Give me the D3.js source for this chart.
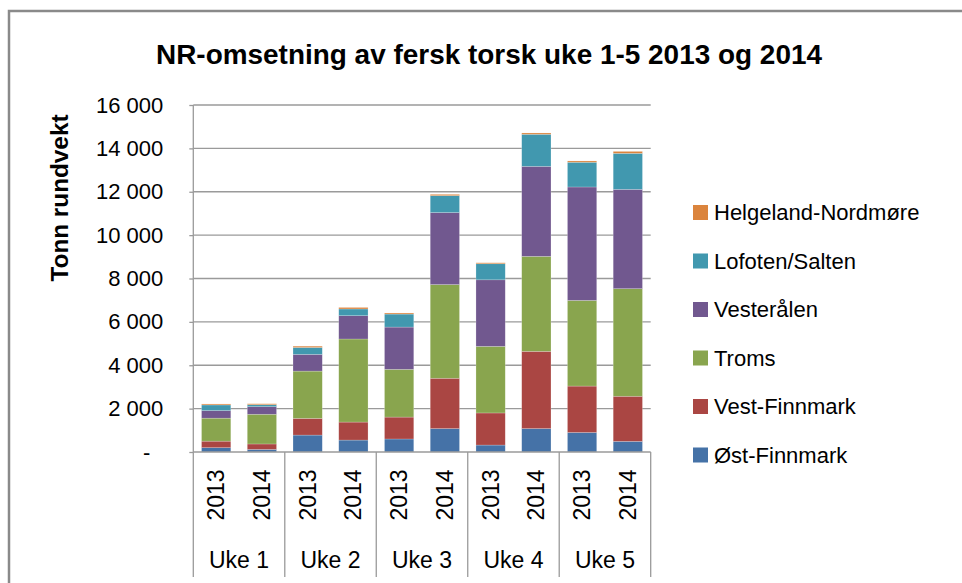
<!DOCTYPE html>
<html><head><meta charset="utf-8">
<script src="https://cdn.jsdelivr.net/npm/d3@7"></script>
<style>
html,body{margin:0;padding:0;background:#fff;}
svg{display:block;}
text{font-family:"Liberation Sans",Arial,sans-serif;fill:#000;}
</style></head>
<body>
<svg id="c" width="962" height="583"></svg>
<script>
const weeks = ["Uke 1","Uke 2","Uke 3","Uke 4","Uke 5"];
const years = ["2013","2014"];
const seriesNames = ["Øst-Finnmark","Vest-Finnmark","Troms","Vesterålen","Lofoten/Salten","Helgeland-Nordmøre"];
const seriesColors = ["#4572A7","#AA4643","#89A54E","#71588F","#4198AF","#DB843D"];
// values per bar: Uke1 2013, Uke1 2014, Uke2 2013, ...
const ostFinnmark  = [200,120, 780,550, 600,1080, 320,1080, 900,490];
const vestFinnmark = [300,250, 770,830, 1010,2320, 1480,3560, 2140,2080];
const troms        = [1060,1370, 2180,3830, 2200,4320, 3070,4380, 3950,4960];
const vesteralen   = [350,350, 770,1075, 1950,3320, 3070,4150, 5230,4580];
const lofoten      = [260,90, 320,310, 600,780, 740,1480, 1140,1660];
const helgeland    = [45,45, 60,70, 50,60, 45,60, 60,90];
const yTicks = [0,2000,4000,6000,8000,10000,12000,14000,16000];

const seriesValues = [ostFinnmark, vestFinnmark, troms, vesteralen, lofoten, helgeland];
const rows = [];
weeks.forEach((w,i)=>years.forEach((y,j)=>{
  const r = {week:w, year:y};
  seriesNames.forEach((s,k)=>{ r[s] = seriesValues[k][i*2+j]; });
  rows.push(r);
}));

const svg = d3.select("#c");
const L = 193.3, R = 650.7, T = 105, B = 452, catBottom = 577;

// outer frame
svg.append("path").attr("d","M9,583 L9,11 L962,11").attr("fill","none").attr("stroke","#8a8a8a").attr("stroke-width",2.5);

const y = d3.scaleLinear().domain([0,16000]).range([B,T]);
const x0 = d3.scaleBand().domain(weeks).range([L,R]).padding(0);
const x1 = d3.scaleBand().domain(years).range([0,x0.bandwidth()]).paddingInner(0.36).paddingOuter(0.18);

// gridlines
svg.append("g").selectAll("line").data(yTicks.filter(d=>d>0)).join("line")
  .attr("x1",L).attr("x2",R).attr("y1",d=>y(d)).attr("y2",d=>y(d))
  .attr("stroke","#9a9a9a").attr("stroke-width",1.3);

// bars
const stack = d3.stack().keys(seriesNames)(rows);
svg.append("g").selectAll("g").data(stack).join("g")
  .attr("fill",(d,i)=>seriesColors[i])
  .selectAll("rect").data(d=>d).join("rect")
  .attr("x",d=>x0(d.data.week)+x1(d.data.year))
  .attr("width",x1.bandwidth())
  .attr("y",d=>y(d[1]))
  .attr("height",d=>Math.max(0,y(d[0])-y(d[1])))
  .attr("stroke","rgba(255,255,255,0.35)").attr("stroke-width",0.6);

// y axis
const fmt = v => v===0 ? "-" : d3.format(",")(v).replace(/,/g," ");
const yAxis = d3.axisLeft(y).tickValues(yTicks).tickSize(4).tickPadding(29).tickFormat(fmt);
const ya = svg.append("g").attr("transform",`translate(${L},0)`).call(yAxis);
ya.select(".domain").remove();
ya.selectAll(".tick line").attr("stroke","#9a9a9a").attr("stroke-width",1.3);
ya.selectAll(".tick text").attr("font-size",22).attr("fill","#000")
  .attr("font-family",'"Liberation Sans",Arial,sans-serif')
  .attr("x",(d)=> d===0 ? -43 : -30);
svg.append("line").attr("x1",L).attr("x2",L).attr("y1",T).attr("y2",catBottom).attr("stroke","#9a9a9a").attr("stroke-width",1.3);

// x axis baseline + separators
svg.append("line").attr("x1",L).attr("x2",R).attr("y1",B).attr("y2",B).attr("stroke","#9a9a9a").attr("stroke-width",1.3);
svg.append("g").selectAll("line").data(weeks.slice(1).concat(["__end"])).join("line")
  .attr("x1",d=> d==="__end" ? R : x0(d)).attr("x2",d=> d==="__end" ? R : x0(d))
  .attr("y1",B).attr("y2",catBottom).attr("stroke","#9a9a9a").attr("stroke-width",1.3);

// year labels
const yl = svg.append("g");
weeks.forEach(w=>years.forEach(yr=>{
  const cx = x0(w)+x1(yr)+x1.bandwidth()/2;
  yl.append("text").attr("transform",`translate(${cx+8},495) rotate(-90)`)
    .attr("text-anchor","middle").attr("font-size",23).text(yr);
}));
// week labels
svg.append("g").selectAll("text").data(weeks).join("text")
  .attr("x",d=>x0(d)+x0.bandwidth()/2).attr("y",568)
  .attr("text-anchor","middle").attr("font-size",23).text(d=>d);

// title
svg.append("text").attr("x",489).attr("y",64).attr("text-anchor","middle")
  .attr("font-size",27).attr("font-weight","bold")
  .attr("textLength",666).attr("lengthAdjust","spacingAndGlyphs")
  .text("NR-omsetning av fersk torsk uke 1-5 2013 og 2014");

// y title
svg.append("text").attr("transform","translate(68,198) rotate(-90)")
  .attr("text-anchor","middle").attr("font-size",23).attr("font-weight","bold")
  .attr("textLength",167).attr("lengthAdjust","spacingAndGlyphs")
  .text("Tonn rundvekt");

// legend
const legendOrder = seriesNames.map((n,i)=>({n, c:seriesColors[i]})).reverse();
const lg = svg.append("g").selectAll("g").data(legendOrder).join("g")
  .attr("transform",(d,i)=>`translate(693,${212+i*48.5})`);
lg.append("rect").attr("x",0).attr("y",-7).attr("width",15).attr("height",15).attr("fill",d=>d.c);
lg.append("text").attr("x",21).attr("y",8).attr("font-size",22).text(d=>d.n);
</script>
</body></html>
